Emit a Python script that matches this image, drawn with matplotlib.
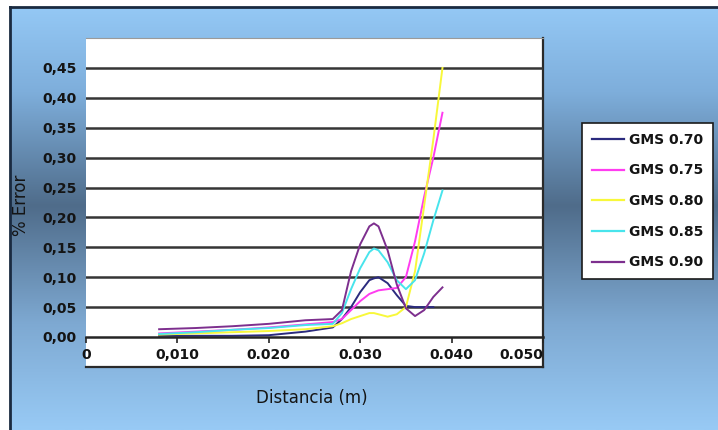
import numpy as np
import matplotlib
matplotlib.use('Agg')
import matplotlib.pyplot as plt
from matplotlib.colors import LinearSegmentedColormap
from matplotlib.patches import Rectangle
from matplotlib.lines import Line2D

W, H = 718, 430

dist = [0.008, 0.012, 0.016, 0.020, 0.024, 0.027, 0.028, 0.029, 0.030,
        0.031, 0.0315, 0.032, 0.033, 0.034, 0.035, 0.036, 0.037, 0.038, 0.039]

gms_070 = [0.002, 0.002, 0.002, 0.003, 0.009, 0.016, 0.030, 0.050, 0.075,
           0.095, 0.098, 0.100, 0.090, 0.070, 0.052, 0.050, 0.050, 0.050, np.nan]
gms_075 = [0.006, 0.009, 0.012, 0.016, 0.021, 0.025, 0.030, 0.045, 0.060,
           0.072, 0.075, 0.078, 0.080, 0.082, 0.100, 0.160, 0.235, 0.300, 0.375]
gms_080 = [0.004, 0.006, 0.008, 0.010, 0.013, 0.018, 0.023, 0.030, 0.035,
           0.040, 0.040, 0.038, 0.034, 0.038, 0.050, 0.110, 0.220, 0.330, 0.450]
gms_085 = [0.005, 0.008, 0.012, 0.015, 0.020, 0.022, 0.040, 0.080, 0.115,
           0.142, 0.148, 0.145, 0.125, 0.095, 0.080, 0.095, 0.140, 0.195, 0.245]
gms_090 = [0.013, 0.015, 0.018, 0.022, 0.028, 0.030, 0.045, 0.110, 0.155,
           0.185, 0.190, 0.185, 0.145, 0.088, 0.048, 0.035, 0.045, 0.067, 0.083]

labels = ['GMS 0.70', 'GMS 0.75', 'GMS 0.80', 'GMS 0.85', 'GMS 0.90']
colors = ['#2b2b7e', '#ff3cf0', '#f8f83a', '#48e4ec', '#7d2f8e']

x_ticks = [0, 0.01, 0.02, 0.03, 0.04, 0.05]
x_ticklabels = ['0', '0,010', '0.020', '0.030', '0.040', '0.050']
y_ticks = [0, 0.05, 0.10, 0.15, 0.20, 0.25, 0.30, 0.35, 0.40, 0.45]
y_ticklabels = ['0,00', '0,05', '0,10', '0,15', '0,20', '0,25', '0,30', '0,35', '0,40', '0,45']

TXT = '#141414'


def fx(px):
    return px / W


def fy(py):
    return 1 - py / H


fig = plt.figure(figsize=(W / 100, H / 100), dpi=100)
fig.patch.set_facecolor('white')

# blue gradient background with a dark frame on top and left
bg = fig.add_axes([fx(10), 0, 1 - fx(10), fy(7)], zorder=-2)
cmap = LinearSegmentedColormap.from_list('bg', [(0, '#94c8f5'), (0.2, '#7eaedb'),
                                                (0.47, '#4f6c8a'), (0.75, '#7ea9d2'),
                                                (1, '#98caf5')])
grad = np.linspace(0, 1, 256).reshape(-1, 1)
bg.imshow(grad, aspect='auto', cmap=cmap, extent=[0, 1, 1, 0])
bg.set_xlim(0, 1)
bg.set_ylim(1, 0)
bg.axis('off')
fig.add_artist(Line2D([fx(10), 1], [fy(7), fy(7)], color='#1a2a40', lw=2, zorder=-1))
fig.add_artist(Line2D([fx(10), fx(10)], [0, fy(7)], color='#1a2a40', lw=2, zorder=-1))

# white plot box (includes the x tick labels) with dark right/bottom edge
fig.add_artist(Rectangle((fx(86), fy(367)), fx(543) - fx(86), fy(38) - fy(367),
                         transform=fig.transFigure, facecolor='white',
                         edgecolor='none', zorder=-1))
fig.add_artist(Line2D([fx(543), fx(543)], [fy(367), fy(38)], color='#2a2a2a', lw=1.6, zorder=-1))
fig.add_artist(Line2D([fx(86), fx(543)], [fy(367), fy(367)], color='#2a2a2a', lw=1.6, zorder=-1))
fig.add_artist(Line2D([fx(86), fx(543)], [fy(38), fy(38)], color='#9a9a9a', lw=0.8, zorder=-1))

ax = fig.add_axes([fx(86), fy(337), fx(543) - fx(86), fy(38) - fy(337)])
ax.set_facecolor('none')

for vals, lab, c in zip([gms_070, gms_075, gms_080, gms_085, gms_090], labels, colors):
    ax.plot(dist, vals, color=c, lw=1.4, label=lab)

ax.set_xlim(0, 0.05)
ax.set_ylim(0, 0.5)

for y in y_ticks[1:]:
    ax.axhline(y, color='#353535', lw=1.8, zorder=0.5)

for s in ['left', 'top', 'right']:
    ax.spines[s].set_visible(False)
ax.spines['bottom'].set_color('#252525')
ax.spines['bottom'].set_linewidth(1.8)

ax.set_xticks(x_ticks)
ax.set_xticklabels(x_ticklabels, fontsize=10, fontweight='bold', color=TXT)
ax.tick_params(axis='x', direction='out', length=4, width=1.2, color='#252525', pad=4)
ax.get_xticklabels()[-1].set_ha('right')
ax.set_yticks(y_ticks)
ax.set_yticklabels(y_ticklabels, fontsize=10, fontweight='bold', color=TXT)
ax.tick_params(axis='y', length=0, pad=6.5)

fig.text(fx(21), fy(205), '% Error', rotation=90, ha='center', va='center',
         fontsize=12, color=TXT)
fig.text(fx(312), fy(398), 'Distancia (m)', ha='center', va='center',
         fontsize=12, color=TXT)

leg = ax.legend(loc='upper left', bbox_to_anchor=(fx(582), fy(123)),
                bbox_transform=fig.transFigure,
                prop={'size': 10, 'weight': 'bold'}, frameon=True,
                fancybox=False, framealpha=1, facecolor='white',
                handlelength=2.3, handletextpad=0.4,
                labelspacing=1.2, borderpad=0.7, borderaxespad=0)
leg.get_frame().set_edgecolor('#1a1a1a')
leg.get_frame().set_linewidth(1.2)
for t in leg.get_texts():
    t.set_color(TXT)
for line in leg.get_lines():
    line.set_linewidth(1.6)

fig.savefig('out.png', dpi=100)
